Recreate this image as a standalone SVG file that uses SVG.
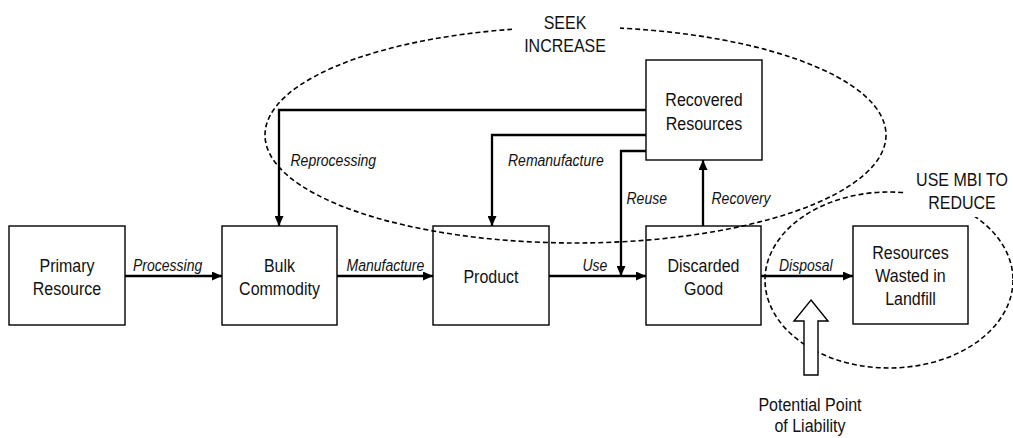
<svg xmlns="http://www.w3.org/2000/svg" width="1013" height="438" viewBox="0 0 1013 438">
<style>
.box{fill:none;stroke:#000;stroke-width:1.4}
.nt{font-family:"Liberation Sans",Arial,sans-serif;font-size:16px;fill:#111;text-anchor:middle}
.lb{font-family:"Liberation Sans",Arial,sans-serif;font-size:14px;font-style:italic;fill:#111}
.cn{fill:none;stroke:#000;stroke-width:2.3}
.el{fill:none;stroke:#000;stroke-width:1.6;stroke-dasharray:5,3}
</style>
<defs>
<marker id="ah" viewBox="0 0 10 9" refX="10" refY="4.5" markerWidth="10" markerHeight="9" markerUnits="userSpaceOnUse" orient="auto">
<path d="M0,0 L10,4.5 L0,9 z" fill="#000"/>
</marker>
</defs>
<rect width="1013" height="438" fill="#fff"/>

<g id="primary-resource">
<rect class="box" x="9" y="226" width="116" height="99"/>
<text class="nt" transform="matrix(1,0,0,1.16,67,271.5)">Primary</text>
<text class="nt" transform="matrix(1,0,0,1.16,67,294.5)">Resource</text>
</g>
<g id="bulk-commodity">
<rect class="box" x="222" y="226" width="115" height="99"/>
<text class="nt" transform="matrix(1,0,0,1.16,279.5,271.5)">Bulk</text>
<text class="nt" transform="matrix(1,0,0,1.16,279.5,294.5)">Commodity</text>
</g>
<g id="product">
<rect class="box" x="433" y="226" width="116" height="99"/>
<text class="nt" transform="matrix(1,0,0,1.16,491,283)">Product</text>
</g>
<g id="discarded-good">
<rect class="box" x="646" y="226" width="115" height="99"/>
<text class="nt" transform="matrix(1,0,0,1.16,703.5,271.5)">Discarded</text>
<text class="nt" transform="matrix(1,0,0,1.16,703.5,294.5)">Good</text>
</g>
<g id="resources-wasted">
<rect class="box" x="853" y="226" width="115" height="98"/>
<text class="nt" transform="matrix(1,0,0,1.16,910.5,258.5)">Resources</text>
<text class="nt" transform="matrix(1,0,0,1.16,910.5,281.5)">Wasted in</text>
<text class="nt" transform="matrix(1,0,0,1.16,910.5,304.5)">Landfill</text>
</g>
<g id="recovered-resources">
<rect class="box" x="646" y="60" width="116" height="100"/>
<text class="nt" transform="matrix(1,0,0,1.16,704,106)">Recovered</text>
<text class="nt" transform="matrix(1,0,0,1.16,704,130)">Resources</text>
</g>

<g id="connectors">
<path class="cn" d="M125,276 H222" marker-end="url(#ah)"/>
<path class="cn" d="M337,276 H433" marker-end="url(#ah)"/>
<path class="cn" d="M549,276 H646" marker-end="url(#ah)"/>
<path class="cn" d="M761,276 H853" marker-end="url(#ah)"/>
<path class="cn" d="M646,110 H279 V226" marker-end="url(#ah)"/>
<path class="cn" d="M646,135 H492 V226" marker-end="url(#ah)"/>
<path class="cn" d="M646,151 H621 V276" marker-end="url(#ah)"/>
<path class="cn" d="M703,226 V160" marker-end="url(#ah)"/>
<text class="lb" transform="matrix(1,0,0,1.12,133,270.5)">Processing</text>
<text class="lb" transform="matrix(1,0,0,1.12,346.5,270.5)">Manufacture</text>
<text class="lb" transform="matrix(1,0,0,1.12,582.5,270.5)">Use</text>
<text class="lb" transform="matrix(1,0,0,1.12,779,270.5)">Disposal</text>
<text class="lb" transform="matrix(1,0,0,1.12,290.5,165.5)">Reprocessing</text>
<text class="lb" transform="matrix(1,0,0,1.12,508,165.5)">Remanufacture</text>
<text class="lb" transform="matrix(1,0,0,1.12,626.5,204)">Reuse</text>
<text class="lb" transform="matrix(1,0,0,1.12,711.5,204)">Recovery</text>
</g>

<g id="seek-increase">
<ellipse class="el" cx="575.5" cy="135" rx="310.5" ry="108"/>
<rect x="512" y="6" width="108" height="52" fill="#fff"/>
<text class="nt" transform="matrix(1,0,0,1.18,565,29)">SEEK</text>
<text class="nt" transform="matrix(1,0,0,1.18,565,52)">INCREASE</text>
</g>

<g id="use-mbi-to-reduce">
<ellipse class="el" cx="889" cy="280" rx="124" ry="88"/>
<rect x="904" y="160" width="109" height="57" fill="#fff"/>
<text class="nt" transform="matrix(1,0,0,1.2,962,186)">USE MBI TO</text>
<text class="nt" transform="matrix(1,0,0,1.2,962,208.5)">REDUCE</text>
</g>

<g id="liability">
<polygon points="811,300 828,321 818,321 818,375 804,375 804,321 794,321" fill="#fff" stroke="#000" stroke-width="1.4"/>
<text class="nt" transform="matrix(1,0,0,1.16,810,411)">Potential Point</text>
<text class="nt" transform="matrix(1,0,0,1.16,810,432)">of Liability</text>
</g>
</svg>
